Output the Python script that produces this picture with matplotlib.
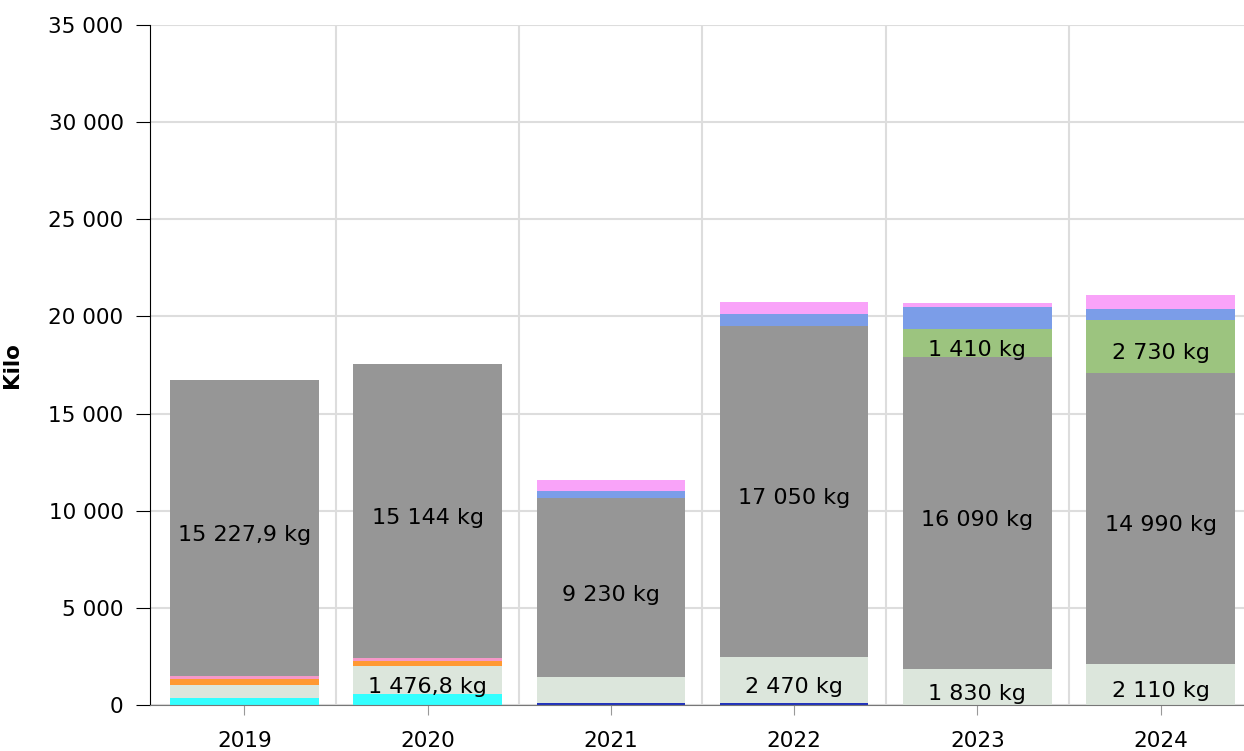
import numpy as np
import matplotlib.pyplot as plt

years = ['2019', '2020', '2021', '2022', '2023', '2024']

# segments from bottom to top (kg)
dark_blue = [0, 0, 80, 80, 0, 0]
cyan = [380, 550, 0, 0, 0, 0]
light_green = [650, 1476.8, 1340, 2390, 1830, 2110]
orange = [290, 220, 0, 0, 0, 0]
rose = [180, 155, 0, 0, 0, 0]
gray = [15227.9, 15144, 9230, 17050, 16090, 14990]
green = [0, 0, 0, 0, 1410, 2730]
blue = [0, 0, 360, 620, 1180, 550]
pink = [0, 0, 550, 620, 170, 720]

label_gray = ['15 227,9 kg', '15 144 kg', '9 230 kg', '17 050 kg', '16 090 kg', '14 990 kg']
label_light = [None, '1 476,8 kg', None, '2 470 kg', '1 830 kg', '2 110 kg']
label_green = [None, None, None, None, '1 410 kg', '2 730 kg']

series = [
    (dark_blue, '#2233bb', None),
    (cyan, '#33ffff', None),
    (light_green, '#dce6dc', label_light),
    (orange, '#ff9933', None),
    (rose, '#f598c8', None),
    (gray, '#969696', label_gray),
    (green, '#9cc47f', label_green),
    (blue, '#7b9de8', None),
    (pink, '#f9a3f9', None),
]

fig = plt.figure(figsize=(12.44, 7.51), dpi=100)
ax = fig.add_axes([150 / 1244, 46 / 751, 1102.25 / 1244, 680 / 751])

x = np.arange(len(years))
bottom = np.zeros(len(years))
for vals, col, labels in series:
    vals = np.array(vals, dtype=float)
    ax.bar(x, vals, 0.81, bottom=bottom, color=col, linewidth=0, zorder=2)
    if labels is not None:
        for i, lab in enumerate(labels):
            if lab:
                ax.annotate(lab, (x[i], bottom[i] + vals[i] / 2), xytext=(0, -5),
                            textcoords='offset points', ha='center', va='center',
                            fontsize=16, color='black', zorder=3)
    bottom += vals

ax.set_xlim(-0.515, 5.5)
ax.set_ylim(0, 35000)
ax.set_yticks(range(0, 35001, 5000))
ax.set_yticklabels(['0' if v == 0 else f'{v // 1000} 000' for v in range(0, 35001, 5000)])
ax.set_xticks(x)
ax.set_xticklabels(years)

ax.set_xticks(np.arange(0.5, 5.5, 1), minor=True)
ax.grid(True, axis='y', color='#dddddd', linewidth=1.5, zorder=0)
ax.grid(True, axis='x', which='minor', color='#dddddd', linewidth=1.5, zorder=0)
ax.tick_params(axis='x', which='minor', length=0)
ax.tick_params(axis='x', which='major', length=7, color='#999999', labelsize=15.5, pad=12)
ax.tick_params(axis='y', length=10, color='black', labelsize=15.5, pad=9)

for s in ['top', 'right']:
    ax.spines[s].set_visible(False)
ax.spines['left'].set_color('black')
ax.spines['bottom'].set_color('#777777')

ax.set_ylabel('Kilo', fontsize=15.5, fontweight='bold')
ax.yaxis.set_label_coords((22 - 150) / 1102.25, 0.5)

fig.savefig('out.png', dpi=100)
